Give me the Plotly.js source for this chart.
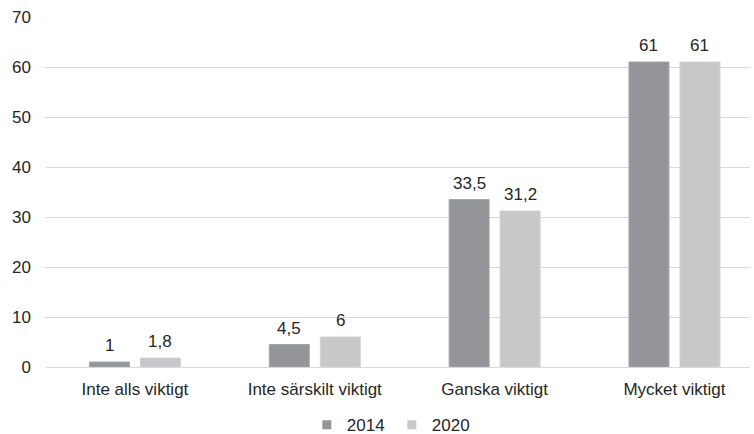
<!DOCTYPE html>
<html>
<head>
<meta charset="utf-8">
<script src="https://cdn.plot.ly/plotly-3.0.1.min.js"></script>
<style>html,body{margin:0;padding:0;background:#fff;}#chart{width:754px;height:434px;}</style>
</head>
<body>
<div id="chart"></div>
<script>
const categories = ["Inte alls viktigt", "Inte särskilt viktigt", "Ganska viktigt", "Mycket viktigt"];
const values2014 = [1, 4.5, 33.5, 61];
const values2020 = [1.8, 6, 31.2, 61];
const seriesNames = ["2014", "2020"];
const yTicks = [0, 10, 20, 30, 40, 50, 60, 70];
const colors = ['#939598', '#c8c8ca'];
const borderColors = ['#a4a6a8', '#d2d2d4'];

const fmt = v => String(v).replace('.', ',');
const font = {family: "Liberation Sans, Arial, sans-serif", size: 17, color: "#262626"};

const traces = [];
[values2014, values2020].forEach((vals, si) => {
  traces.push({type: 'bar', name: seriesNames[si], x: categories, y: vals, hoverinfo: 'skip',
    showlegend: false, marker: {color: colors[si], line: {color: borderColors[si], width: 1}}});
});
// legend entries with small square markers
seriesNames.forEach((n, si) => {
  traces.push({type: 'scatter', mode: 'markers', name: n, x: [null], y: [null],
    marker: {symbol: 'square', size: 9, color: colors[si]}, showlegend: true, hoverinfo: 'skip'});
});

const annotations = [];
[values2014, values2020].forEach((vals, si) => {
  vals.forEach((v, i) => {
    annotations.push({x: categories[i], y: v, xref: 'x', yref: 'y', text: fmt(v),
      showarrow: false, xanchor: 'center', yanchor: 'bottom',
      xshift: si === 0 ? -25.5 : 25.5, yshift: 5, font: font});
  });
});

const layout = {
  width: 754, height: 434,
  margin: {l: 45, r: 4, t: 17, b: 67, autoexpand: false},
  paper_bgcolor: '#fff', plot_bgcolor: '#fff',
  font: font,
  barmode: 'group', bargap: 0.433, bargroupgap: 0.216,
  showlegend: true,
  legend: {orientation: 'h', x: 0.492, xanchor: 'center', y: -0.166, yanchor: 'middle',
           font: font, itemwidth: 30, entrywidth: 40, entrywidthmode: 'pixels',
           traceorder: 'normal', itemclick: false},
  annotations: annotations,
  xaxis: {type: 'category', range: [-0.5, 3.42], showgrid: false, zeroline: false,
          showline: false, ticks: '', tickfont: font, ticklabelstandoff: 10, automargin: false},
  yaxis: {range: [0, 70], tickvals: yTicks, showgrid: true, gridcolor: '#d9d9d9',
          gridwidth: 1, zeroline: true, zerolinecolor: '#d9d9d9', zerolinewidth: 1,
          showline: false, ticks: '', ticklabelstandoff: 13, tickfont: font, automargin: false}
};

Plotly.newPlot('chart', traces, layout, {displayModeBar: false, staticPlot: true});
</script>
</body>
</html>
